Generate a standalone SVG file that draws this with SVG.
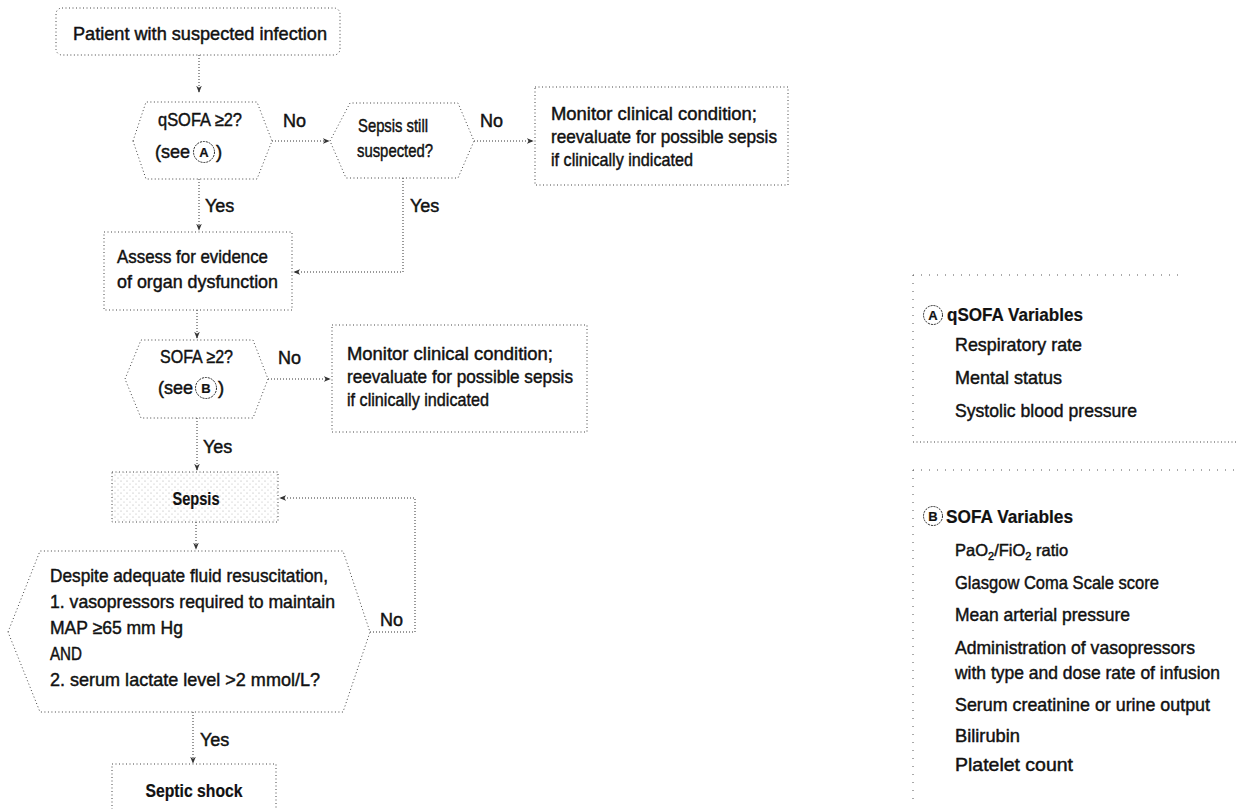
<svg xmlns="http://www.w3.org/2000/svg" width="1237" height="809" viewBox="0 0 1237 809">
<style>
text{font-family:"Liberation Sans",Arial,sans-serif;font-size:18.5px;fill:#111;stroke:#111;stroke-width:0.45px;}
.b{font-weight:bold;stroke-width:0.2px;}
.lbl{font-size:18px;}
.box{fill:none;stroke:#444;stroke-width:1;stroke-dasharray:1 2.5;}
.sparse{fill:none;stroke:#555;stroke-width:1;stroke-dasharray:1 7;}
.con{fill:none;stroke:#333;stroke-width:1;stroke-dasharray:1 2;}
.circ{fill:#fff;stroke:#222;stroke-width:1;stroke-dasharray:2 1;}
.ct{font-size:13px;font-weight:bold;text-anchor:middle;stroke-width:0.2px;}
</style>
<defs>
<marker id="ah" viewBox="0 0 10 10" refX="9" refY="5" markerWidth="7" markerHeight="7" orient="auto" markerUnits="userSpaceOnUse">
<path d="M0,1 L10,5 L0,9 L3,5 Z" fill="#333"/>
</marker>
<pattern id="stip" width="6" height="6" patternUnits="userSpaceOnUse">
<rect width="6" height="6" fill="#fff"/>
<circle cx="1" cy="1" r="0.6" fill="#aaa"/>
<circle cx="4" cy="4" r="0.6" fill="#bbb"/>
</pattern>
</defs>
<rect width="1237" height="809" fill="#fff"/>

<g id="connectors">
<path class="con" d="M199,55 L199,92" marker-end="url(#ah)"/>
<path class="con" d="M272,141 L329,141" marker-end="url(#ah)"/>
<path class="con" d="M474,141 L533,141" marker-end="url(#ah)"/>
<path class="con" d="M199,179 L199,230" marker-end="url(#ah)"/>
<path class="con" d="M403,178 L403,272 L294,272" marker-end="url(#ah)"/>
<path class="con" d="M197,310 L197,338" marker-end="url(#ah)"/>
<path class="con" d="M268,379 L330,379" marker-end="url(#ah)"/>
<path class="con" d="M197,418 L197,470" marker-end="url(#ah)"/>
<path class="con" d="M196,522 L196,549" marker-end="url(#ah)"/>
<path class="con" d="M370,632 L415,632 L415,498 L280,498" marker-end="url(#ah)"/>
<path class="con" d="M193,712 L193,763" marker-end="url(#ah)"/>
<text class="lbl" x="283" y="127">No</text>
<text class="lbl" x="480" y="127">No</text>
<text class="lbl" x="205" y="212">Yes</text>
<text class="lbl" x="410" y="212">Yes</text>
<text class="lbl" x="278" y="364">No</text>
<text class="lbl" x="203" y="453">Yes</text>
<text class="lbl" x="380" y="626">No</text>
<text class="lbl" x="200" y="746">Yes</text>
</g>

<g id="n-patient">
<rect class="box" x="56" y="8" width="284" height="47" rx="6"/>
<text x="73" y="40" textLength="254" lengthAdjust="spacingAndGlyphs">Patient with suspected infection</text>
</g>

<g id="n-qsofa">
<polygon class="box" points="133,141 146,102 257,102 272,141 257,179 146,179"/>
<text x="158" y="126" textLength="84" lengthAdjust="spacingAndGlyphs">qSOFA ≥2?</text>
<text x="155" y="158" textLength="35" lengthAdjust="spacingAndGlyphs">(see</text>
<circle class="circ" cx="204" cy="152" r="10.5"/>
<text class="ct" x="204" y="157">A</text>
<text x="216" y="158">)</text>
</g>

<g id="n-still">
<polygon class="box" points="330,141 350,103 458,103 474,141 458,178 346,178"/>
<text x="358" y="132" textLength="70" lengthAdjust="spacingAndGlyphs">Sepsis still</text>
<text x="357" y="157" textLength="76" lengthAdjust="spacingAndGlyphs">suspected?</text>
</g>

<g id="n-monitor1">
<rect class="box" x="535" y="87" width="253" height="98"/>
<text x="551" y="120" textLength="206" lengthAdjust="spacingAndGlyphs">Monitor clinical condition;</text>
<text x="551" y="143" textLength="226" lengthAdjust="spacingAndGlyphs">reevaluate for possible sepsis</text>
<text x="551" y="166" textLength="142" lengthAdjust="spacingAndGlyphs">if clinically indicated</text>
</g>

<g id="n-assess">
<rect class="box" x="104" y="232" width="188" height="78"/>
<text x="117" y="263" textLength="151" lengthAdjust="spacingAndGlyphs">Assess for evidence</text>
<text x="117" y="288" textLength="161" lengthAdjust="spacingAndGlyphs">of organ dysfunction</text>
</g>

<g id="n-sofa">
<polygon class="box" points="125,379 141,340 253,340 268,379 253,418 141,418"/>
<text x="160" y="363" textLength="73" lengthAdjust="spacingAndGlyphs">SOFA ≥2?</text>
<text x="158" y="394" textLength="35" lengthAdjust="spacingAndGlyphs">(see</text>
<circle class="circ" cx="206" cy="388" r="10.5"/>
<text class="ct" x="206" y="393">B</text>
<text x="218" y="394">)</text>
</g>

<g id="n-monitor2">
<rect class="box" x="332" y="325" width="255" height="107"/>
<text x="347" y="360" textLength="206" lengthAdjust="spacingAndGlyphs">Monitor clinical condition;</text>
<text x="347" y="383" textLength="226" lengthAdjust="spacingAndGlyphs">reevaluate for possible sepsis</text>
<text x="347" y="406" textLength="142" lengthAdjust="spacingAndGlyphs">if clinically indicated</text>
</g>

<g id="n-sepsis">
<rect x="112" y="472" width="166" height="50" fill="url(#stip)" stroke="#444" stroke-width="1" stroke-dasharray="1 2.5"/>
<text class="b" x="196" y="505" text-anchor="middle" textLength="47" lengthAdjust="spacingAndGlyphs">Sepsis</text>
</g>

<g id="n-shock-q">
<polygon class="box" points="8,632 40,551 343,551 370,632 343,712 40,712"/>
<text x="50" y="582" textLength="278" lengthAdjust="spacingAndGlyphs">Despite adequate fluid resuscitation,</text>
<text x="50" y="608" textLength="285" lengthAdjust="spacingAndGlyphs">1. vasopressors required to maintain</text>
<text x="50" y="634" textLength="133" lengthAdjust="spacingAndGlyphs">MAP ≥65 mm Hg</text>
<text x="50" y="660" textLength="32" lengthAdjust="spacingAndGlyphs">AND</text>
<text x="50" y="686" textLength="270" lengthAdjust="spacingAndGlyphs">2. serum lactate level &gt;2 mmol/L?</text>
</g>

<g id="n-shock">
<rect class="box" x="112" y="764" width="164" height="60"/>
<text class="b" x="194" y="797" text-anchor="middle" textLength="97" lengthAdjust="spacingAndGlyphs">Septic shock</text>
</g>

<g id="legend-a">
<path class="sparse" d="M913,275 L1180,275"/>
<path class="sparse" d="M913,275 L913,442"/>
<path class="box" d="M913,442 L1237,442"/>
<circle class="circ" cx="933" cy="315" r="9.5"/>
<text class="ct" x="933" y="320">A</text>
<text class="b" x="947" y="321" textLength="136" lengthAdjust="spacingAndGlyphs">qSOFA Variables</text>
<text x="955" y="351" textLength="127" lengthAdjust="spacingAndGlyphs">Respiratory rate</text>
<text x="955" y="384" textLength="107" lengthAdjust="spacingAndGlyphs">Mental status</text>
<text x="955" y="417" textLength="182" lengthAdjust="spacingAndGlyphs">Systolic blood pressure</text>
</g>

<g id="legend-b">
<path class="sparse" d="M913,470 L1237,470"/>
<path class="sparse" d="M913,470 L913,800"/>
<circle class="circ" cx="933" cy="516" r="9.5"/>
<text class="ct" x="933" y="521">B</text>
<text class="b" x="946" y="523" textLength="127" lengthAdjust="spacingAndGlyphs">SOFA Variables</text>
<text x="955" y="556" style="font-size:16.5px">PaO<tspan font-size="11" dy="4">2</tspan><tspan dy="-4">/FiO</tspan><tspan font-size="11" dy="4">2</tspan><tspan dy="-4"> ratio</tspan></text>
<text x="955" y="589" textLength="204" lengthAdjust="spacingAndGlyphs">Glasgow Coma Scale score</text>
<text x="955" y="621" textLength="175" lengthAdjust="spacingAndGlyphs">Mean arterial pressure</text>
<text x="955" y="654" textLength="240" lengthAdjust="spacingAndGlyphs">Administration of vasopressors</text>
<text x="955" y="679" textLength="265" lengthAdjust="spacingAndGlyphs">with type and dose rate of infusion</text>
<text x="955" y="711" textLength="255" lengthAdjust="spacingAndGlyphs">Serum creatinine or urine output</text>
<text x="955" y="742" textLength="65" lengthAdjust="spacingAndGlyphs">Bilirubin</text>
<text x="955" y="771" textLength="118" lengthAdjust="spacingAndGlyphs">Platelet count</text>
</g>
</svg>
